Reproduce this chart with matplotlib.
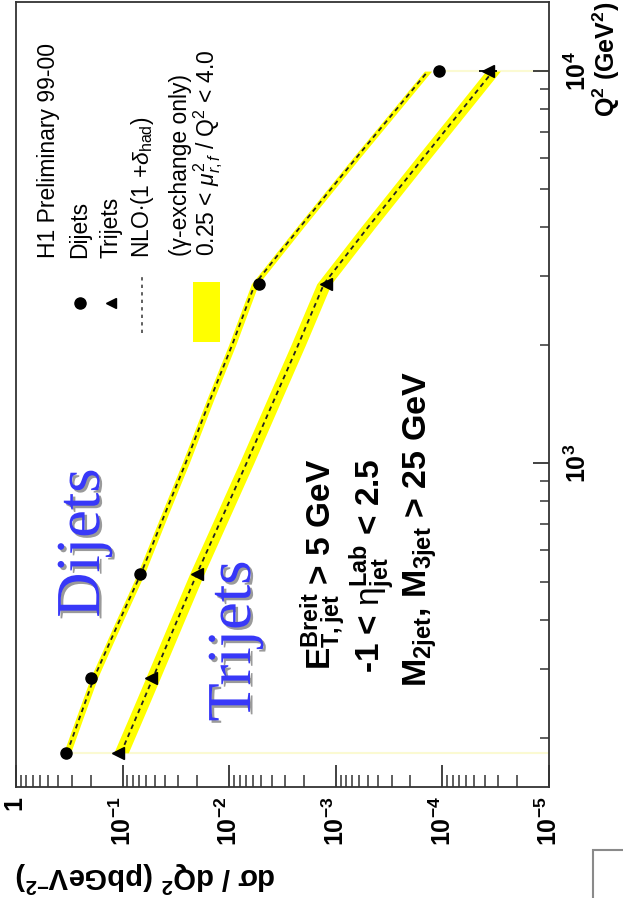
import numpy as np
import matplotlib
matplotlib.use('Agg')
import matplotlib.pyplot as plt
import matplotlib.patheffects as pe
from matplotlib.ticker import LogLocator, FixedLocator, FuncFormatter, NullFormatter
from matplotlib.patches import Rectangle
from matplotlib.lines import Line2D

plt.rcParams['mathtext.fontset'] = 'custom'
plt.rcParams['mathtext.rm'] = 'Liberation Sans'
plt.rcParams['mathtext.bf'] = 'Liberation Sans:bold'
plt.rcParams['mathtext.it'] = 'Liberation Sans:italic'
plt.rcParams['mathtext.sf'] = 'Liberation Sans'
plt.rcParams['font.family'] = ['Liberation Sans', 'DejaVu Sans']

# ---------------- data ----------------
q2 = [183, 284, 524, 2870, 10000]                       # GeV^2
dijet_xs = [0.342, 0.197, 0.068, 0.00527, 1.07e-4]      # pb/GeV^2
trijet_xs = [0.110, 0.0537, 0.0202, 1.24e-3, 3.73e-5]
trijet_err_minus = [0, 0, 0, 0, 6.5e-6]
trijet_err_plus = [0, 0, 0, 0, 8.1e-6]

# NLO curves
q2_nlo = [183, 230, 284, 390, 524, 750, 1000, 1450, 2000, 2870, 4000, 6000, 10000]
dijet_nlo = [0.332, 0.2456, 0.1855, 0.1104, 0.0672, 0.0396, 0.0257, 0.01514,
             0.00941, 0.00573, 0.002167, 6.46e-4, 1.364e-4]
dijet_nlo_lo = [0.3074, 0.2274, 0.1718, 0.1022, 0.0622, 0.03667, 0.0238, 0.01402,
                0.00871, 0.00531, 0.002006, 5.98e-4, 1.263e-4]
dijet_nlo_hi = [0.3586, 0.2652, 0.2003, 0.1192, 0.0726, 0.04277, 0.02776, 0.01635,
                0.01016, 0.00619, 0.00234, 6.98e-4, 1.473e-4]
trijet_nlo = [0.1035, 0.0722, 0.0519, 0.03176, 0.02005, 0.01109, 0.006899, 0.003799,
              0.002262, 0.00129, 4.99e-4, 1.52e-4, 3.35e-5]
trijet_nlo_lo = [0.08846, 0.06171, 0.04436, 0.02715, 0.01714, 0.00948, 0.005897,
                 0.003247, 0.001933, 0.001103, 4.265e-4, 1.299e-4, 2.863e-5]
trijet_nlo_hi = [0.1211, 0.08447, 0.06072, 0.03716, 0.02346, 0.01298, 0.008072,
                 0.004445, 0.002647, 0.001509, 5.838e-4, 1.778e-4, 3.92e-5]

x_ticks = [1, 1e-1, 1e-2, 1e-3, 1e-4, 1e-5]
y_ticks = [1e3, 1e4]

# ---------------- figure ----------------
W, H = 623, 898
fig = plt.figure(figsize=(W / 100, H / 100), dpi=100)


def fx(x):
    return x / W


def fy(y):
    return 1 - y / H


ax = fig.add_axes([fx(16), fy(786.7), (549 - 16) / W, (786.7 - 2) / H])
ax.set_xscale('log')
ax.set_yscale('log')
ax.set_xlim(1, 1e-5)
ax.set_ylim(150, 15000)

# faint band-edge lines
ax.plot([dijet_xs[0], 1e-5], [q2[0], q2[0]], color='#fbfad2', lw=1.5, zorder=1)
ax.plot([dijet_xs[-1], 1e-5], [q2[-1], q2[-1]], color='#fbfad2', lw=1.5, zorder=1)

# bands
ax.fill_betweenx(q2_nlo, dijet_nlo_lo, dijet_nlo_hi, color='#ffff00', lw=0, zorder=2)
ax.fill_betweenx(q2_nlo, trijet_nlo_lo, trijet_nlo_hi, color='#ffff00', lw=0, zorder=2)
# NLO lines
ax.plot(dijet_nlo, q2_nlo, color='#222222', lw=1.3, ls=(0, (2.6, 2.2)), zorder=3)
ax.plot(trijet_nlo, q2_nlo, color='#222222', lw=1.3, ls=(0, (2.6, 2.2)), zorder=3)
# data
ax.plot(dijet_xs, q2, 'o', ms=8, color='black', zorder=4)
ax.errorbar(trijet_xs, q2, xerr=[trijet_err_minus, trijet_err_plus], fmt='<',
            ms=8, color='black', ecolor='black', elinewidth=1.3, capsize=0, zorder=4)

# axes styling
for s in ax.spines.values():
    s.set_color('#333333')
    s.set_linewidth(1.3)

ax.xaxis.set_major_locator(FixedLocator(x_ticks))
ax.xaxis.set_minor_locator(LogLocator(base=10, subs=np.arange(2, 10), numticks=20))
ax.xaxis.set_minor_formatter(NullFormatter())


def xfmt(v, pos):
    if abs(v - 1) < 1e-9:
        return r'$\mathbf{1}$'
    return r'$\mathbf{10^{%d}}$' % int(round(np.log10(v)))


def yfmt(v, pos):
    return r'$\mathbf{10^{%d}}$' % int(round(np.log10(v)))


ax.xaxis.set_major_formatter(FuncFormatter(xfmt))
ax.tick_params(axis='x', which='major', direction='in', length=16, width=1.3,
               color='#333333', bottom=True, top=False, labelsize=18, pad=7,
               labelrotation=90)
ax.tick_params(axis='x', which='minor', direction='in', length=8.5, width=1.1,
               color='#333333', bottom=True, top=False)

ax.yaxis.tick_right()
ax.yaxis.set_major_locator(FixedLocator(y_ticks))
ax.yaxis.set_minor_locator(LogLocator(base=10, subs=np.arange(2, 10), numticks=20))
ax.yaxis.set_minor_formatter(NullFormatter())
ax.yaxis.set_major_formatter(FuncFormatter(yfmt))
ax.tick_params(axis='y', which='major', direction='in', length=11.5, width=1.3,
               color='#333333', left=False, right=True, labelsize=18, pad=11,
               labelrotation=90)
ax.tick_params(axis='y', which='minor', direction='in', length=6.5, width=1.1,
               color='#333333', left=False, right=True)
for lab in ax.get_yticklabels():
    lab.set_va('center')
for lab in ax.get_xticklabels():
    lab.set_va('top')
    lab.set_ha('center')

# axis titles (rotated figure)
fig.text(fx(15), fy(877), 'dσ / dQ$^{\\mathbf{2}}$ (pbGeV$^{\\mathbf{-2}}$)',
         rotation=180, ha='left', va='center', fontsize=21, fontweight='bold')
fig.text(fx(606), fy(2), 'Q$^{\\mathbf{2}}$ (GeV$^{\\mathbf{2}}$)',
         rotation=90, ha='center', va='top', fontsize=18, fontweight='bold')

# legend (rotated)
lfs = 16.5
fig.text(fx(49), fy(258), 'H1 Preliminary 99-00', rotation=90, ha='center', va='bottom', fontsize=lfs)
fig.add_artist(Line2D([fx(80)], [fy(303)], marker='o', ms=8, color='black'))
fig.text(fx(80), fy(258), 'Dijets', rotation=90, ha='center', va='bottom', fontsize=lfs)
fig.add_artist(Line2D([fx(111)], [fy(303)], marker='<', ms=7, color='black'))
fig.text(fx(111), fy(258), 'Trijets', rotation=90, ha='center', va='bottom', fontsize=lfs)
fig.add_artist(Line2D([fx(142), fx(142)], [fy(333), fy(273)], color='#444444', lw=1.2,
                      ls=(0, (2, 2.5))))
fig.text(fx(142), fy(258), r'NLO$\cdot$(1 +$\delta_{\rm had}$)', rotation=90, ha='center',
         va='bottom', fontsize=lfs)
fig.add_artist(Rectangle((fx(193), fy(342)), fx(27), 60 / H, color='#ffff00', lw=0))
fig.text(fx(181), fy(256), '(γ-exchange only)', rotation=90, ha='center', va='bottom', fontsize=lfs)
fig.text(fx(208), fy(256), r'0.25 < $\mu^{2}_{r,f}$ / Q$^{2}$ < 4.0', rotation=90, ha='center',
         va='bottom', fontsize=lfs)

# selection cuts
sfs = 24
fig.text(fx(323), fy(670), r'$\mathbf{E_{T,jet}^{Breit}}$ > 5 GeV', rotation=90, ha='center',
         va='bottom', fontsize=sfs, fontweight='bold')
fig.text(fx(372), fy(673), r'-1 < $\mathrm{\eta}_{\mathbf{jet}}^{\mathbf{Lab}}$ < 2.5', rotation=90,
         ha='center', va='bottom', fontsize=sfs, fontweight='bold')
fig.text(fx(420), fy(687), r'$\mathbf{M_{2jet}}$, $\mathbf{M_{3jet}}$ > 25 GeV', rotation=90,
         ha='center', va='bottom', fontsize=sfs + 0.5, fontweight='bold')

# big blue labels
shadow = [pe.SimplePatchShadow(offset=(1.8, -1.8), shadow_rgbFace='#9a9a9a', alpha=1.0), pe.Normal()]
fig.text(fx(84), fy(543), 'Dijets', rotation=90, ha='center', va='center', fontsize=45,
         family='Liberation Serif', color='#3838f8', path_effects=shadow)
fig.text(fx(235), fy(641), 'Trijets', rotation=90, ha='center', va='center', fontsize=45,
         family='Liberation Serif', color='#3838f8', path_effects=shadow)

# stray frame at the lower right
fig.add_artist(Rectangle((fx(593), fy(900)), fx(40), 50 / H, fill=False, ec='#8a8a8a', lw=1.5))

fig.savefig('out.png', dpi=100, facecolor='white')
